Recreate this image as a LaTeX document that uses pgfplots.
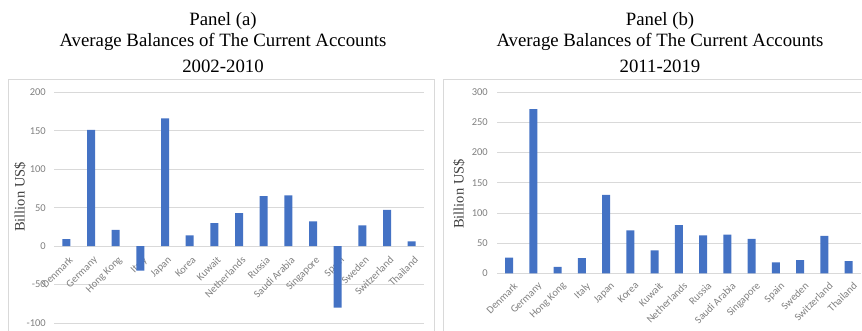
\documentclass[border=0pt]{standalone}
\usepackage{fontspec}
\setmainfont{Liberation Serif}
\newfontfamily\calib{Carlito}
\usepackage{pgfplots}
\pgfplotsset{compat=1.18}

\definecolor{barblue}{HTML}{4472C4}
\definecolor{gridgray}{HTML}{D9D9D9}
\definecolor{labgray}{HTML}{808080}

\pgfplotstableread{
idx country val
0  Denmark      9
1  Germany      151
2  {Hong Kong}  21
3  Italy        -32
4  Japan        166
5  Korea        14
6  Kuwait       30
7  Netherlands  43
8  Russia       65
9  {Saudi Arabia} 66
10 Singapore    32
11 Spain        -80
12 Sweden       27
13 Switzerland  47
14 Thailand     6
}\panelA

\pgfplotstableread{
idx country val
0  Denmark      26
1  Germany      272
2  {Hong Kong}  10.5
3  Italy        25
4  Japan        130
5  Korea        71
6  Kuwait       38
7  Netherlands  80
8  Russia       63
9  {Saudi Arabia} 64
10 Singapore    57
11 Spain        18
12 Sweden       22
13 Switzerland  62
14 Thailand     20
}\panelB

\pgfplotsset{
  panel/.style={
    scale only axis, anchor=south west,
    xmin=-0.5, xmax=14.5,
    axis line style={draw=none},
    major tick length=0pt,
    ymajorgrids, grid style={gridgray, line width=0.9pt},
    xtick={0,...,14},
    xticklabels={Denmark,Germany,Hong Kong,Italy,Japan,Korea,Kuwait,Netherlands,Russia,Saudi Arabia,Singapore,Spain,Sweden,Switzerland,Thailand},
    /pgf/number format/assume math mode=true,
    tick label style={font=\calib\fontsize{10.5}{12}\selectfont, text=labgray},
    yticklabel style={anchor=east, inner sep=0pt, xshift=-8pt},
    clip=false,
  },
  cabar/.style={ybar, bar width=8pt, fill=barblue, draw=none},
}

\begin{document}
\begin{tikzpicture}
\useasboundingbox (0pt,0pt) rectangle (862pt,331pt);

% panel frames
\begin{scope}
  \clip (0pt,0pt) rectangle (862pt,331pt);
  \draw[gridgray, line width=1pt] (8pt,-20pt) -- (8pt,251pt) -- (434pt,251pt) -- (434pt,-20pt);
  \draw[gridgray, line width=1pt] (443pt,-20pt) -- (443pt,251pt) -- (880pt,251pt);
\end{scope}

% titles
\begin{scope}[every node/.style={anchor=base, font=\fontsize{18.8}{20}\selectfont}]
\node at (223pt,305pt) {Panel (a)};
\node at (223pt,284.3pt) {Average Balances of The Current Accounts};
\node at (223pt,258.3pt) {2002-2010};
\node at (660pt,305pt) {Panel (b)};
\node at (660pt,284.3pt) {Average Balances of The Current Accounts};
\node at (660pt,258.3pt) {2011-2019};
\end{scope}

% y-axis titles
\node[rotate=90, font=\fontsize{14.5}{16}\selectfont, text=black!75] at (20pt,134pt) {Billion US\$};
\node[rotate=90, font=\fontsize{14.5}{16}\selectfont, text=black!75] at (459pt,137pt) {Billion US\$};

% Panel (a): 2002-2010
\begin{axis}[panel, at={(54pt,8pt)}, width=370pt, height=230.7pt,
  ymin=-100, ymax=200, ytick={-100,-50,...,200},
  xticklabel style={yshift=67.5pt, xshift=2pt, rotate=45, anchor=north east, inner sep=0pt},
]
\addplot[cabar] table[x=idx, y=val] {\panelA};
\end{axis}

% Panel (b): 2011-2019
\begin{axis}[panel, at={(497pt,57.7pt)}, width=363.7pt, height=181pt,
  ymin=0, ymax=300, ytick={0,50,...,300},
  yticklabel style={xshift=-1pt},
  xticklabel style={xshift=4pt, yshift=-8pt, rotate=45, anchor=north east, inner sep=0pt},
]
\addplot[cabar] table[x=idx, y=val] {\panelB};
\end{axis}
\end{tikzpicture}
\end{document}
